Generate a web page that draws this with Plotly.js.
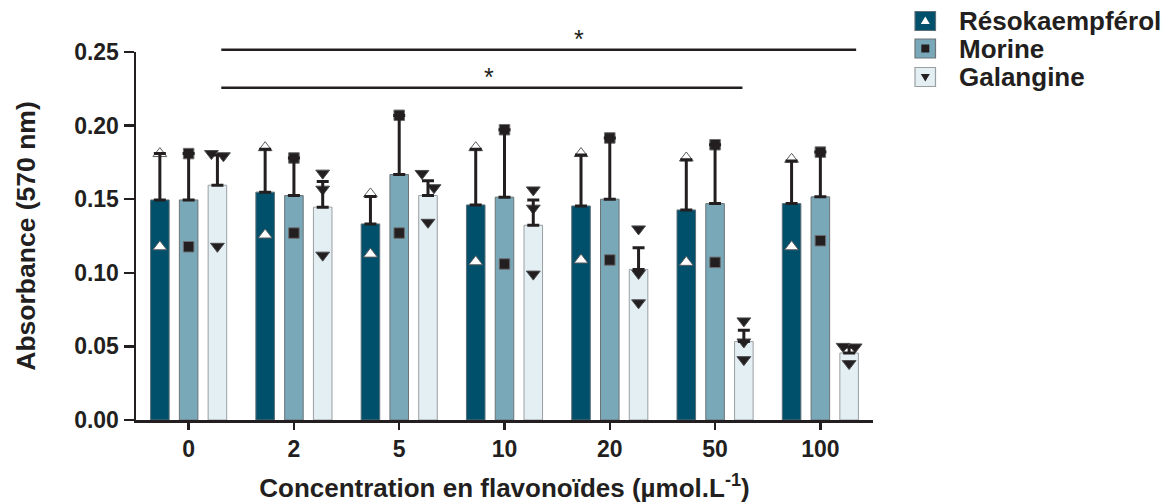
<!DOCTYPE html>
<html>
<head>
<meta charset="utf-8">
<script src="https://cdn.plot.ly/plotly-3.0.1.min.js"></script>
<style>
  html, body { margin: 0; padding: 0; background: #ffffff; }
  #chart { width: 1171px; height: 504px; }
</style>
</head>
<body>
<div id="chart"></div>
<script>
// ---------- data ----------
const categories = ['0', '2', '5', '10', '20', '50', '100'];
const seriesNames = ['Résokaempférol', 'Morine', 'Galangine'];

const resoMean = [0.1495, 0.1548, 0.1332, 0.1461, 0.1454, 0.1427, 0.1470];
const resoSem  = [0.0315, 0.0292, 0.0186, 0.0379, 0.0346, 0.0341, 0.0290];
const resoPtsHigh = [0.1810, 0.1850, 0.1536, 0.1850, 0.1810, 0.1780, 0.1771];
const resoPtsLow  = [0.1177, 0.1257, 0.1127, 0.1075, 0.1087, 0.1071, 0.1177];

const morMean = [0.1495, 0.1525, 0.1668, 0.1514, 0.1500, 0.1470, 0.1516];
const morSem  = [0.0315, 0.0255, 0.0400, 0.0458, 0.0416, 0.0400, 0.0304];
const morPtsHigh = [0.1810, 0.1780, 0.2070, 0.1972, 0.1916, 0.1870, 0.1820];
const morPtsLow  = [0.1177, 0.1270, 0.1270, 0.1060, 0.1087, 0.1071, 0.1218];

const galMean = [0.1595, 0.1446, 0.1525, 0.1323, 0.1023, 0.0533, 0.0455];
const galSem  = [0.0205, 0.0174, 0.0100, 0.0172, 0.0147, 0.0077, 0.0041];
const galPts1 = [0.1810, 0.1677, 0.1675, 0.1563, 0.1298, 0.0673, 0.0500];
const galPts2 = [0.1795, 0.1568, 0.1578, 0.1439, 0.0996, 0.0530, 0.0496];
const galPts3 = [0.1180, 0.1120, 0.1343, 0.0991, 0.0796, 0.0410, 0.0383];

// significance brackets (x in category units, y in absorbance)
const sigXStart = [0.31, 0.31];
const sigXEnd   = [6.34, 5.26];
const sigY      = [0.2515, 0.2257];
const sigLabelX = [3.71, 2.85];
const sigLabel  = ['*', '*'];

// ---------- style ----------
const colors = ['#00506b', '#79a8b9', '#e3eff3'];
const barLine = ['#5d6f78', '#6d7478', '#9a9fa3'];
const ink = '#231f20';
const FONT = 'Liberation Sans, Arial, sans-serif';

const BARGAP = 0.18, BARGROUPGAP = 0.355;
const slot = (1 - BARGAP) / 3;
const XR = [-0.5, 6.5], YR = [0, 0.25];
const idx = categories.map((c, i) => i);

const means = [resoMean, morMean, galMean];
const sems = [resoSem, morSem, galSem];

const traces = [];
// bars
for (let s = 0; s < 3; s++) {
  traces.push({
    type: 'bar', x: idx, y: means[s], name: seriesNames[s],
    marker: { color: colors[s], line: { color: barLine[s], width: 1 } },
    showlegend: false, hoverinfo: 'skip'
  });
}
const posFor = (s) => idx.map(i => i + (s - 1) * slot);

// simple jitter for nearly-overlapping points
function jitterPair(a, b, thr, d) {
  const ja = [], jb = [];
  for (let i = 0; i < a.length; i++) {
    if (Math.abs(a[i] - b[i]) < thr) {
      ja.push(a[i] >= b[i] ? -d : d);
      jb.push(a[i] >= b[i] ? d : -d);
    } else { ja.push(0); jb.push(0); }
  }
  return [ja, jb];
}
const [j1, j2] = jitterPair(galPts1, galPts2, 0.0104, 0.057);

// points
const triUp = { symbol: 'triangle-up', size: 12, color: '#ffffff', line: { color: '#5a5b5e', width: 1 } };
const sq = { symbol: 'square', size: 10.5, color: ink, line: { color: '#6d6e71', width: 1 } };
const triDn = { symbol: 'triangle-down', size: 12, color: ink, line: { color: '#4a4b4e', width: 1 } };

traces.push({ type: 'scatter', mode: 'markers', x: posFor(0), y: resoPtsLow, marker: triUp, showlegend: false, hoverinfo: 'skip' });
traces.push({ type: 'scatter', mode: 'markers', x: posFor(0), y: resoPtsHigh, marker: triUp, showlegend: false, hoverinfo: 'skip' });
traces.push({ type: 'scatter', mode: 'markers', x: posFor(1), y: morPtsLow, marker: sq, showlegend: false, hoverinfo: 'skip' });
traces.push({ type: 'scatter', mode: 'markers', x: posFor(1), y: morPtsHigh, marker: sq, showlegend: false, hoverinfo: 'skip' });
traces.push({ type: 'scatter', mode: 'markers', x: posFor(2).map((v, i) => v + j1[i]), y: galPts1, marker: triDn, showlegend: false, hoverinfo: 'skip' });
traces.push({ type: 'scatter', mode: 'markers', x: posFor(2).map((v, i) => v + j2[i]), y: galPts2, marker: triDn, showlegend: false, hoverinfo: 'skip' });
traces.push({ type: 'scatter', mode: 'markers', x: posFor(2), y: galPts3, marker: triDn, showlegend: false, hoverinfo: 'skip' });

// error bars (upper only) drawn on top
for (let s = 0; s < 3; s++) {
  traces.push({
    type: 'scatter', mode: 'markers', x: posFor(s), y: means[s],
    marker: { size: 1, opacity: 0 },
    error_y: { type: 'data', array: sems[s], arrayminus: sems[s].map(() => 0), symmetric: false,
               color: ink, thickness: 3, width: 6 },
    showlegend: false, hoverinfo: 'skip'
  });
}

// ---------- layout helpers ----------
const W = 1171, H = 504;
const M = { l: 136, r: 298, t: 52, b: 84 };
const pw = W - M.l - M.r, ph = H - M.t - M.b;
const xPaper = (x) => (x - XR[0]) / (XR[1] - XR[0]);
const yPaper = (y) => (y - YR[0]) / (YR[1] - YR[0]);
const pxX = (px) => (px - M.l) / pw;
const pxY = (py) => (H - M.b - py) / ph;

const shapes = [];
const annotations = [];
for (let k = 0; k < sigY.length; k++) {
  shapes.push({ type: 'line', xref: 'paper', yref: 'paper',
    x0: xPaper(sigXStart[k]), x1: xPaper(sigXEnd[k]), y0: yPaper(sigY[k]), y1: yPaper(sigY[k]),
    line: { color: ink, width: 2.5 } });
  annotations.push({ xref: 'paper', yref: 'paper', x: xPaper(sigLabelX[k]), y: yPaper(sigY[k]),
    yanchor: 'bottom', xanchor: 'center', yshift: -5, showarrow: false, text: sigLabel[k],
    font: { family: FONT, size: 25, color: ink } });
}

// custom legend (boxes with symbol, then label)
const legRows = [21, 48.5, 77];
const legPath = ['M-4.5,-3 L4.5,-3 L0,4.5 Z', 'M-4,-4 L4,-4 L4,4 L-4,4 Z', 'M-4.5,3 L4.5,3 L0,-4.5 Z'];
const legGlyphColor = ['#ffffff', ink, ink];
for (let s = 0; s < 3; s++) {
  shapes.push({ type: 'rect', xref: 'paper', yref: 'paper',
    x0: pxX(915), x1: pxX(935.5), y0: pxY(legRows[s] + 9.5), y1: pxY(legRows[s] - 9.5),
    fillcolor: colors[s], line: { color: barLine[s], width: 1.2 } });
  shapes.push({ type: 'path', xref: 'paper', yref: 'paper', xsizemode: 'pixel', ysizemode: 'pixel',
    xanchor: pxX(925.3), yanchor: pxY(legRows[s]), path: legPath[s],
    fillcolor: legGlyphColor[s], line: { width: 0 } });
  annotations.push({ xref: 'paper', yref: 'paper', x: pxX(957), y: pxY(legRows[s]),
    xanchor: 'left', yanchor: 'middle', showarrow: false, text: '<b>' + seriesNames[s] + '</b>',
    font: { family: FONT, size: 26, color: ink } });
}

const layout = {
  width: W, height: H,
  margin: M,
  paper_bgcolor: '#ffffff', plot_bgcolor: '#ffffff',
  barmode: 'group', bargap: BARGAP, bargroupgap: BARGROUPGAP,
  showlegend: false,
  font: { family: FONT, color: ink },
  xaxis: {
    range: XR, tickvals: idx, ticktext: categories.map(c => '<b>' + c + '</b>'),
    showline: true, linecolor: ink, linewidth: 2.5, ticks: 'outside', ticklen: 7, tickwidth: 2.5,
    tickcolor: ink, showgrid: false, zeroline: false, fixedrange: true,
    tickfont: { family: FONT, size: 23, color: ink },
    title: { text: '<b>Concentration en flavonoïdes (µmol.L<sup>-1</sup>)</b>', standoff: 18,
             font: { family: FONT, size: 26, color: ink } }
  },
  yaxis: {
    range: YR, tickvals: [0, 0.05, 0.10, 0.15, 0.20, 0.25],
    ticktext: ['0.00', '0.05', '0.10', '0.15', '0.20', '0.25'].map(t => '<b>' + t + '</b>'),
    showline: true, linecolor: ink, linewidth: 2.5, ticks: 'outside', ticklen: 10, tickwidth: 2.5,
    tickcolor: ink, showgrid: false, zeroline: false, fixedrange: true,
    tickfont: { family: FONT, size: 23, color: ink },
    title: { text: '<b>Absorbance (570 nm)</b>', standoff: 31,
             font: { family: FONT, size: 26.5, color: ink } }
  },
  shapes: shapes,
  annotations: annotations
};

Plotly.newPlot('chart', traces, layout, { staticPlot: true, displayModeBar: false });
</script>
</body>
</html>
